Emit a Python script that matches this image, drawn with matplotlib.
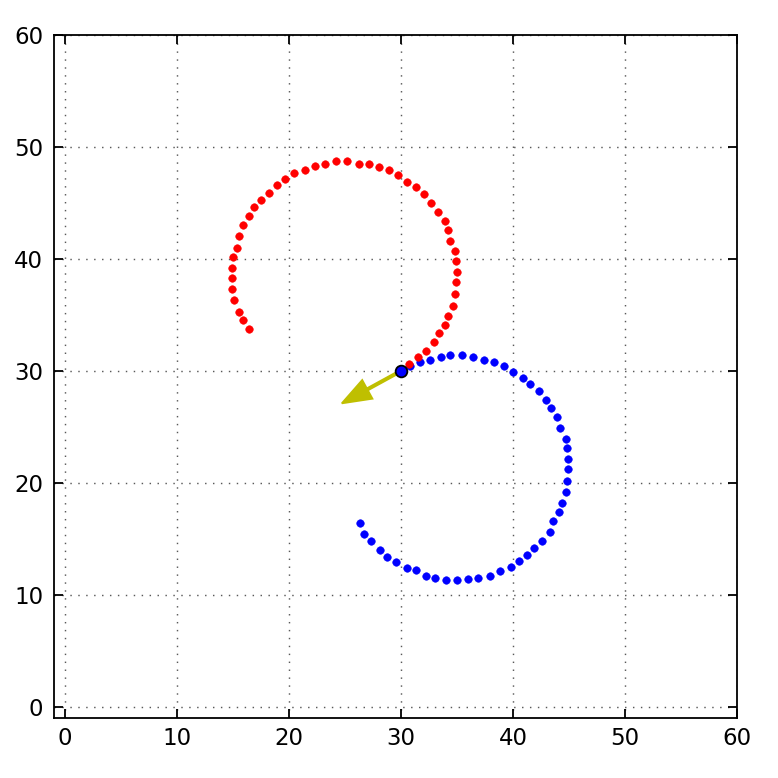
import numpy as np
import matplotlib
matplotlib.use("Agg")
import matplotlib.pyplot as plt

# Puntos (trayectoria roja y azul)
red_x = [30.7, 31.5, 32.2, 32.9, 33.4, 33.9, 34.2, 34.6, 34.8, 34.9, 35.0, 34.9, 34.8,
         34.4, 34.2, 33.9, 33.3, 32.7, 32.0, 31.3, 30.5, 29.7, 28.9, 28.0, 27.1, 26.2,
         25.2, 24.2, 23.2, 22.3, 21.4, 20.4, 19.6, 18.9, 18.2, 17.5, 16.9, 16.4, 15.9,
         15.5, 15.3, 15.0, 14.9, 14.9, 14.9, 15.1, 15.5, 15.9, 16.4]
red_y = [30.6, 31.2, 31.8, 32.6, 33.4, 34.1, 34.9, 35.8, 36.9, 37.9, 38.8, 39.8, 40.7,
         41.6, 42.6, 43.4, 44.2, 45.0, 45.8, 46.4, 46.9, 47.5, 47.9, 48.2, 48.5, 48.5,
         48.7, 48.7, 48.5, 48.3, 47.9, 47.7, 47.1, 46.6, 45.9, 45.3, 44.6, 43.8, 43.0,
         42.0, 41.0, 40.2, 39.2, 38.3, 37.3, 36.3, 35.3, 34.5, 33.7]

blue_x = [30.8, 31.7, 32.6, 33.6, 34.4, 35.4, 36.4, 37.4, 38.3, 39.2, 40.0, 40.9, 41.5,
          42.3, 42.9, 43.4, 43.9, 44.2, 44.7, 44.8, 44.9, 44.9, 44.8, 44.7, 44.4, 44.1,
          43.6, 43.3, 42.6, 41.9, 41.2, 40.5, 39.8, 38.8, 37.9, 36.9, 36.0, 35.0, 34.0,
          33.0, 32.2, 31.3, 30.5, 29.5, 28.7, 28.1, 27.3, 26.7, 26.3]
blue_y = [30.4, 30.8, 31.0, 31.2, 31.4, 31.4, 31.2, 31.0, 30.8, 30.4, 29.9, 29.4, 28.8,
          28.2, 27.4, 26.7, 25.9, 24.9, 23.9, 23.1, 22.1, 21.2, 20.2, 19.2, 18.2, 17.4,
          16.6, 15.6, 14.8, 14.2, 13.6, 13.0, 12.5, 12.1, 11.7, 11.5, 11.4, 11.3, 11.3,
          11.5, 11.7, 12.2, 12.4, 12.9, 13.4, 14.0, 14.8, 15.4, 16.4]

# Punto actual y flecha de direccion
point = (30, 30)
arrow_tip = (24.7, 27.1)

ticks = [0, 10, 20, 30, 40, 50, 60]

plt.rcParams['font.family'] = ['DejaVu Sans']

fig = plt.figure(figsize=(6, 6), dpi=129.67)
fig.patch.set_facecolor('white')
ax = fig.add_axes([0.0694, 0.0771, 0.878, 0.878])

ax.plot(blue_x, blue_y, 'o', color='b', markersize=4.2, markeredgewidth=0.3,
        markeredgecolor='b', zorder=3)
ax.plot(red_x, red_y, 'o', color='r', markersize=4.2, markeredgewidth=0.3,
        markeredgecolor='r', zorder=3)

# Flecha amarilla y punto actual encima
ax.arrow(point[0], point[1], arrow_tip[0] - point[0], arrow_tip[1] - point[1],
         width=0.2, head_width=1.9, head_length=2.6, length_includes_head=True,
         fc=(0.75, 0.75, 0), ec=(0.75, 0.75, 0), zorder=4)
ax.plot([point[0]], [point[1]], 'o', color='b', markersize=6.5,
        markeredgecolor='k', markeredgewidth=1.0, zorder=5)

ax.set_xlim(-1, 60)
ax.set_ylim(-1, 60)
ax.set_xticks(ticks)
ax.set_yticks(ticks)
ax.grid(True, color='0.35', linewidth=0.8, dashes=(1.0, 4.5))
ax.tick_params(direction='in', top=True, right=True, length=5, width=1,
               labelsize=12.7, colors='k')
ax.tick_params(axis='x', pad=5)
ax.tick_params(axis='y', pad=6)
for s in ax.spines.values():
    s.set_linewidth(1.0)

plt.savefig("out.png", dpi=129.67, facecolor='white')
